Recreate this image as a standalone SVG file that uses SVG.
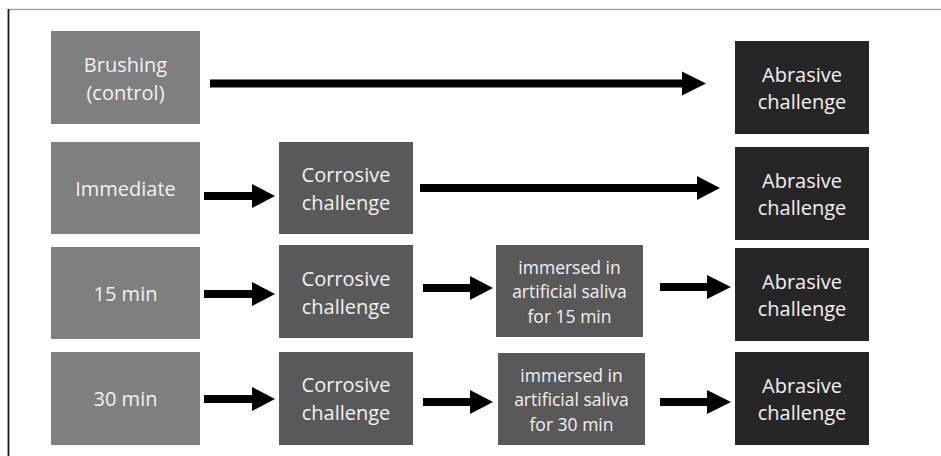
<svg xmlns="http://www.w3.org/2000/svg" width="941" height="456" viewBox="0 0 941 456">
<style>
.frame-top{stroke:#a6a6a6;stroke-width:1.5;fill:none}
.frame-left{stroke:#1a1a1a;stroke-width:1.8;fill:none}
.light{fill:#7f7f7f}
.mid{fill:#595959}
.dark{fill:#262626}
text{font-family:"Open Sans","Noto Sans","Liberation Sans",sans-serif;fill:#f2f2f2;text-anchor:middle;font-size:20px}
text.small{font-size:17.5px}
.arrow{fill:#000}
</style>
<rect x="0" y="0" width="941" height="456" fill="#fff"/>
<line class="frame-top" x1="8" y1="9.5" x2="941" y2="9.5"/>
<line class="frame-left" x1="8.5" y1="9" x2="8.5" y2="456"/>

<g id="brushing"><rect class="light" x="51" y="31" width="149" height="93"/><text x="125.5" y="72">Brushing</text><text x="125.5" y="100">(control)</text></g>
<g id="immediate"><rect class="light" x="51" y="142" width="149" height="92"/><text x="125.5" y="196">Immediate</text></g>
<g id="t15"><rect class="light" x="51" y="247" width="149" height="92"/><text x="125.5" y="301">15 min</text></g>
<g id="t30"><rect class="light" x="51" y="352" width="149" height="93"/><text x="125.5" y="406">30 min</text></g>

<g id="corr2"><rect class="mid" x="279" y="142" width="134" height="92"/><text x="346" y="182">Corrosive</text><text x="346" y="210">challenge</text></g>
<g id="corr3"><rect class="mid" x="279" y="245" width="134" height="93"/><text x="346" y="286">Corrosive</text><text x="346" y="314">challenge</text></g>
<g id="corr4"><rect class="mid" x="279" y="352" width="134" height="93"/><text x="346" y="392">Corrosive</text><text x="346" y="420">challenge</text></g>

<g id="imm15"><rect class="mid" x="496" y="245" width="147" height="92"/><text class="small" x="569.5" y="274">immersed in</text><text class="small" x="569.5" y="298">artificial saliva</text><text class="small" x="569.5" y="323">for 15 min</text></g>
<g id="imm30"><rect class="mid" x="498" y="353" width="147" height="92"/><text class="small" x="571.5" y="382">immersed in</text><text class="small" x="571.5" y="406">artificial saliva</text><text class="small" x="571.5" y="431">for 30 min</text></g>

<g id="abr1"><rect class="dark" x="735" y="41" width="134" height="93"/><text x="802" y="82">Abrasive</text><text x="802" y="109">challenge</text></g>
<g id="abr2"><rect class="dark" x="735" y="147" width="134" height="93"/><text x="802" y="188">Abrasive</text><text x="802" y="215">challenge</text></g>
<g id="abr3"><rect class="dark" x="735" y="248" width="134" height="93"/><text x="802" y="289">Abrasive</text><text x="802" y="316">challenge</text></g>
<g id="abr4"><rect class="dark" x="735" y="352" width="134" height="93"/><text x="802" y="393">Abrasive</text><text x="802" y="420">challenge</text></g>

<g id="connectors">
<polygon class="arrow" points="210,79.5 682,79.5 682,71.5 706,83.5 682,95.5 682,87.5 210,87.5"/>
<polygon class="arrow" points="420,184 697,184 697,176 720,188 697,200 697,192 420,192"/>
<polygon class="arrow" points="204,192 252,192 252,184 275,196 252,208 252,200 204,200"/>
<polygon class="arrow" points="204,290 252,290 252,282 275,294 252,306 252,298 204,298"/>
<polygon class="arrow" points="423,284 470,284 470,276 493,288 470,300 470,292 423,292"/>
<polygon class="arrow" points="660,283 707,283 707,275 731,287 707,299 707,291 660,291"/>
<polygon class="arrow" points="204,395 252,395 252,387 275,399 252,411 252,403 204,403"/>
<polygon class="arrow" points="423,398 470,398 470,390 493,402 470,414 470,406 423,406"/>
<polygon class="arrow" points="660,398 707,398 707,390 731,402 707,414 707,406 660,406"/>
</g>
</svg>
